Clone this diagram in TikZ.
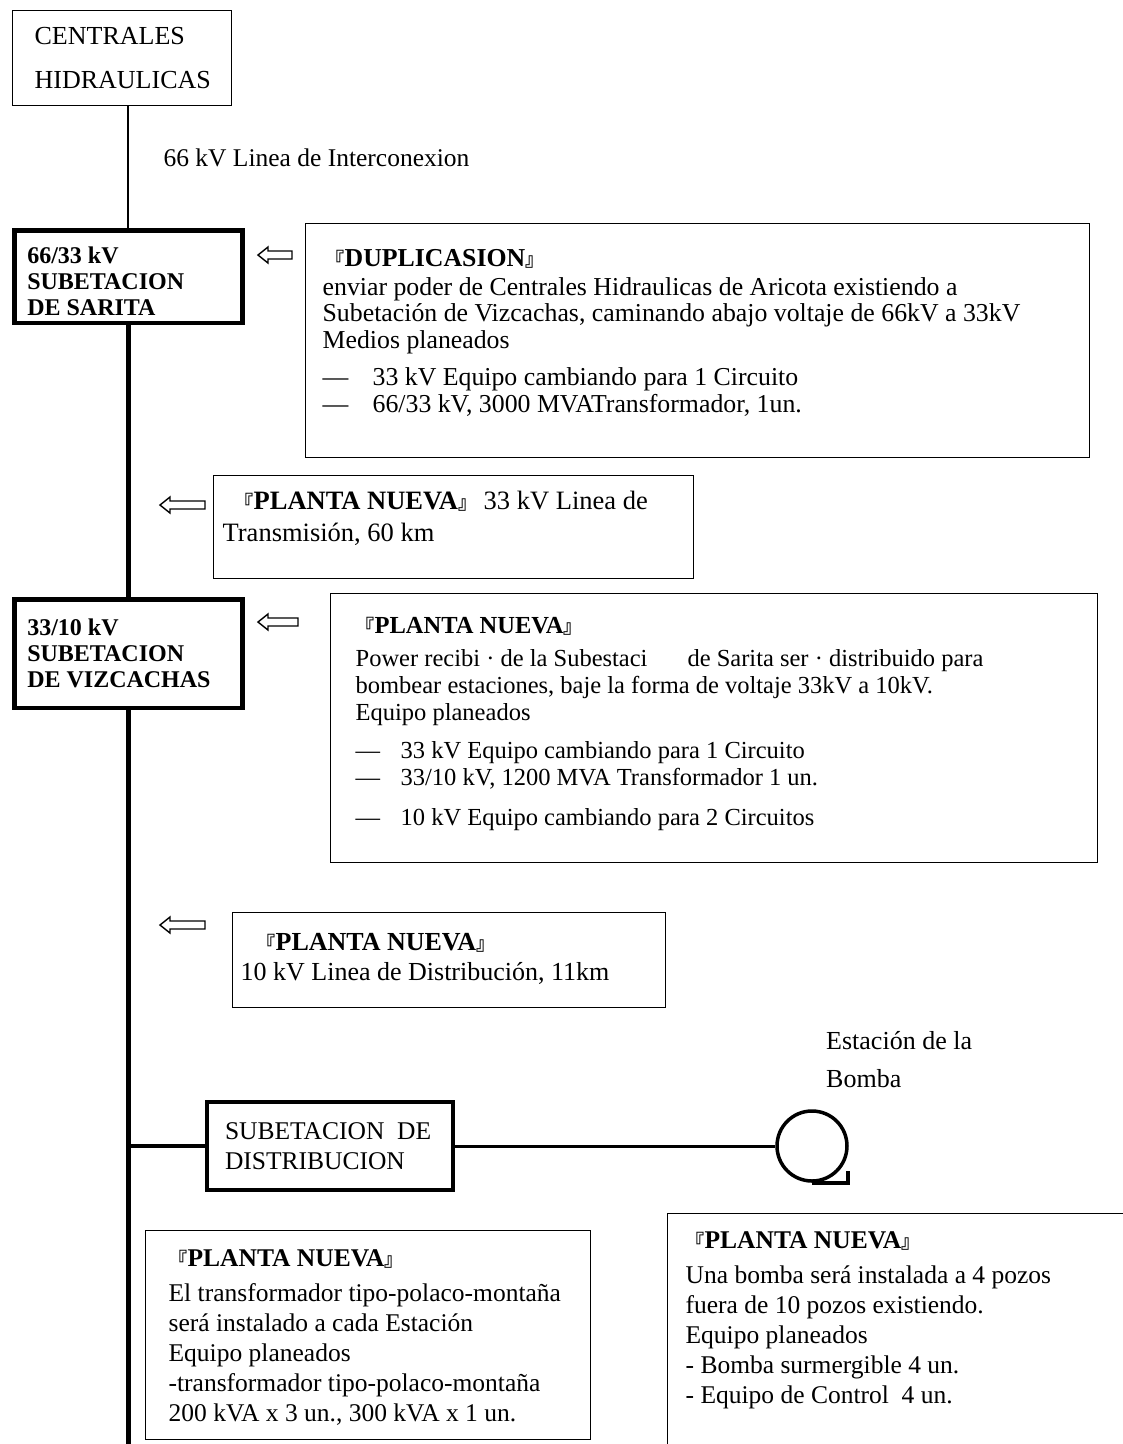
\documentclass[tikz,border=0pt]{standalone}
\usepackage{fontspec}
\setmainfont{Liberation Serif}
\newfontfamily\cjk{Noto Sans CJK JP}
\newcommand{\qopen}{{\cjk\fontsize{19}{19}\selectfont 『}}
\newcommand{\qclose}{{\cjk\fontsize{19}{19}\selectfont 』}}
\newcommand{\dashitem}[1]{\makebox[#1][l]{—}}
\newcommand{\boxtext}[3]{\parbox[t][#2][t]{#1}{\strut#3}}
\newcommand{\feedarrow}[2]{\draw[feed] #1 -- ++(10,-8) -- ++(0,4) -- ++(#2-10,0) -- ++(0,8) -- ++(10-#2,0) -- ++(0,4) -- cycle;}

\begin{document}
\begin{tikzpicture}[x=1pt, y=-1pt,
    station/.style={draw, line width=4.5pt, anchor=north west, inner xsep=13pt, align=flush left,
      font=\fontsize{24}{26}\selectfont\bfseries},
    source/.style={draw, line width=1.3pt, anchor=north west, inner xsep=22pt, align=flush left,
      font=\fontsize{26}{44}\selectfont},
    infobox/.style={draw, line width=1.3pt, anchor=north west, inner sep=0pt,
      font=\fontsize{24.5}{27}\selectfont},
    lowbox/.style={infobox, font=\fontsize{25.5}{30}\selectfont},
    feed/.style={line width=1.4pt, line join=miter},
    bus/.style={line width=5pt}]
   \useasboundingbox (0,0) rectangle (1123,1444);

   % sources and substations
   \node[source, text width=175pt, minimum height=95pt] (hidro) at (12,10) {CENTRALES\\HIDRAULICAS};
   \node[anchor=west, font=\fontsize{25.5}{27}\selectfont] (linelabel) at (160,158) {66 kV Linea de Interconexion};
   \node[station, text width=202pt, minimum height=92.5pt] (sarita) at (12,228) {\rule{0pt}{26pt}66/33 kV\\SUBETACION\\DE SARITA};
   \node[station, text width=202pt, minimum height=108.5pt] (vizcachas) at (12,597) {33/10 kV\\SUBETACION\\DE VIZCACHAS};
   \node[draw, line width=4pt, anchor=north west, inner xsep=18pt, text width=210pt, minimum height=88pt,
     align=flush left, font=\fontsize{25.5}{30}\selectfont] (distrib) at (205,1100) {SUBETACION\ \ DE\\DISTRIBUCION};
   \node[circle, draw, line width=3.5pt, minimum size=70pt, inner sep=0pt] (pump) at (812,1146) {};
   \node[anchor=north west, inner sep=0pt, align=flush left, font=\fontsize{26}{38}\selectfont] (pumplabel) at (826,1031) {Estación de la\\Bomba};

   % notes
   \node[infobox, inner xsep=17pt, inner ysep=24pt, font=\fontsize{25.8}{26.5}\selectfont] (dup) at (305,223) {\boxtext{750pt}{186pt}{%
     \hspace*{3pt}\textbf{\qopen DUPLICASION\qclose}\\[2.5pt]
     enviar poder de Centrales Hidraulicas de Aricota existiendo a\\
     Subetación de Vizcachas, caminando abajo voltaje de 66kV a 33kV\\
     Medios planeados\\[11pt]
     \dashitem{50pt}33 kV Equipo cambiando para 1 Circuito\\
     \dashitem{50pt}66/33 kV, 3000 MVATransformador, 1un.}};
   \node[infobox, inner xsep=9pt, inner ysep=11.5pt, font=\fontsize{26.5}{32}\selectfont] (line33) at (213,475) {\boxtext{462pt}{80pt}{%
     \hspace*{12pt}\textbf{\qopen PLANTA NUEVA\qclose}\ 33 kV Linea de\\
     Transmisión, 60 km}};
   \node[infobox, inner xsep=25pt, inner ysep=21pt] (newviz) at (330,593) {\boxtext{717pt}{227pt}{%
     \textbf{\qopen PLANTA NUEVA\qclose}\\[6pt]
     Power recibi · de la Subestaci\hspace{40pt}de Sarita ser · distribuido para\\
     bombear estaciones, baje la forma de voltaje 33kV a 10kV.\\
     Equipo planeados\\[11pt]
     \dashitem{45pt}33 kV Equipo cambiando para 1 Circuito\\
     \dashitem{45pt}33/10 kV, 1200 MVA Transformador 1 un.\\[13pt]
     \dashitem{45pt}10 kV Equipo cambiando para 2 Circuitos}};
   \node[infobox, inner xsep=8pt, inner ysep=17pt, font=\fontsize{26}{30}\selectfont] (line10) at (232,912) {\boxtext{417pt}{61pt}{%
     \hspace*{16pt}\textbf{\qopen PLANTA NUEVA\qclose}\\
     10 kV Linea de Distribución, 11km}};
   \node[lowbox, inner xsep=23pt, inner ysep=15pt] (newtrafo) at (145,1230) {\boxtext{399pt}{179pt}{%
     \textbf{\qopen PLANTA NUEVA\qclose}\\[5pt]
     El transformador tipo-polaco-montaña\\
     será instalado a cada Estación\\
     Equipo planeados\\
     -transformador tipo-polaco-montaña\\
     \ 200 kVA x 3 un., 300 kVA x 1 un.}};
   \node[lowbox, inner xsep=18pt, inner ysep=14pt] (newpump) at (667,1213) {\boxtext{434pt}{232pt}{%
     \textbf{\qopen PLANTA NUEVA\qclose}\\[5pt]
     Una bomba será instalada a 4 pozos\\
     fuera de 10 pozos existiendo.\\
     Equipo planeados\\
     - Bomba surmergible 4 un.\\
     - Equipo de Control\ \ 4 un.}};

   % feeders
   \coordinate (busend) at (128,1450);
   \draw[line width=1.3pt] (hidro.south -| busend) -- (sarita.north -| busend);
   \draw[bus] (sarita.south -| busend) -- (vizcachas.north -| busend);
   \draw[bus] (vizcachas.south -| busend) -- (busend);
   \draw[line width=4.5pt] (busend |- distrib.west) -- (distrib.west);
   \draw[line width=3pt] (distrib.east) -- (distrib.east -| pump.west);
   \draw[line width=3.5pt] (pump.south) -- ++(36,0) -- ++(0,-12);

   \feedarrow{(258,255)}{34}
   \feedarrow{(160,505)}{45}
   \feedarrow{(258,622)}{40}
   \feedarrow{(160,925)}{45}
\end{tikzpicture}
\end{document}
